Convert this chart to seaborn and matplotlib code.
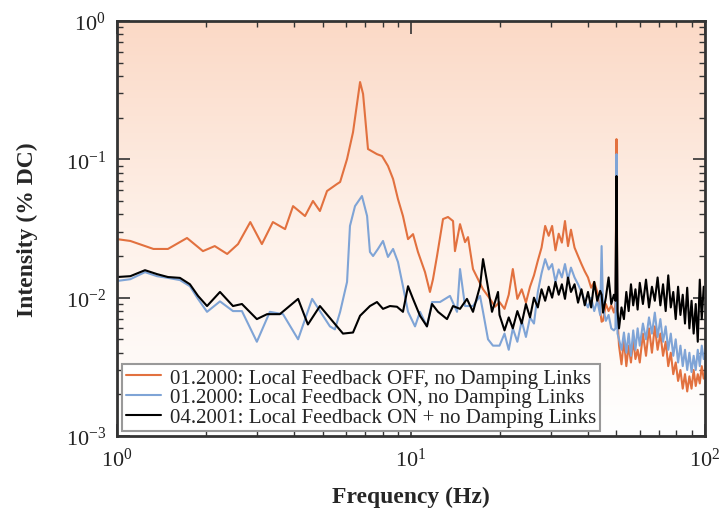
import numpy as np
import pandas as pd
import seaborn as sns
import matplotlib.pyplot as plt
from matplotlib.colors import LinearSegmentedColormap

# low-frequency part (1-20 Hz), read per series
off_lo_hz = [1.00, 1.11, 1.33, 1.49, 1.73, 1.96, 2.15, 2.37, 2.58, 2.84, 3.11, 3.39, 3.73, 3.97,
             4.36, 4.64, 4.90, 5.18, 5.60, 5.74, 6.06, 6.35, 6.55, 6.71, 6.87, 7.14, 7.66, 7.97,
             8.35, 8.69, 9.03, 9.39, 9.77, 10.16, 10.56, 11.16, 11.60, 11.88, 12.26, 12.85,
             13.36, 13.90, 14.11, 14.68, 15.27, 15.63, 16.25, 16.90, 17.58, 18.57, 19.31]
off_lo_val = [0.0265, 0.0257, 0.0225, 0.0225, 0.0270, 0.0217, 0.0236, 0.0207, 0.0244, 0.0352,
              0.0244, 0.0352, 0.0313, 0.0459, 0.0389, 0.0500, 0.0423, 0.059, 0.0663, 0.0686,
              0.1005, 0.157, 0.251, 0.362, 0.297, 0.1187, 0.109, 0.1056, 0.0895, 0.0721, 0.0516,
              0.0389, 0.0265, 0.0288, 0.0214, 0.0153, 0.0110, 0.0136, 0.0200, 0.0370, 0.0383,
              0.0358, 0.0217, 0.0340, 0.0252, 0.0274, 0.0161, 0.0136, 0.0115, 0.0098, 0.0086]

on_lo_hz = [1.00, 1.11, 1.245, 1.368, 1.49, 1.637, 1.77, 1.886, 2.024, 2.24, 2.48, 2.66, 2.99,
            3.31, 3.67, 4.13, 4.61, 4.90, 5.30, 5.51, 5.74, 6.06, 6.20, 6.45, 6.81, 7.09, 7.25,
            7.43, 7.72, 8.03, 8.35, 8.69, 9.03, 9.39, 9.77, 10.32, 10.73, 11.33, 11.79, 12.55,
            13.57, 14.34, 14.68, 15.27, 16.25, 17.17, 17.58, 18.28, 19.0]
on_lo_val = [0.0132, 0.0136, 0.0153, 0.0143, 0.0139, 0.0134, 0.0121, 0.0098, 0.0079, 0.0094,
             0.0080, 0.0080, 0.0048, 0.0079, 0.0076, 0.0050, 0.0098, 0.0080, 0.0062, 0.0059,
             0.0079, 0.0130, 0.0330, 0.0459, 0.0543, 0.0389, 0.0214, 0.0200, 0.0225, 0.0257,
             0.0197, 0.0225, 0.0181, 0.0121, 0.0079, 0.0062, 0.0079, 0.0062, 0.0093, 0.0093,
             0.0103, 0.0079, 0.0161, 0.0087, 0.0087, 0.0103, 0.0079, 0.0050, 0.0045]

new_lo_hz = [1.00, 1.11, 1.245, 1.368, 1.49, 1.637, 1.77, 1.886, 2.024, 2.24, 2.48, 2.66, 2.99,
             3.24, 3.58, 4.13, 4.46, 4.90, 5.43, 5.87, 6.35, 6.71, 7.25, 7.66, 8.03, 8.48, 8.96,
             9.39, 9.77, 10.16, 10.73, 11.33, 11.79, 12.36, 13.26, 13.90, 14.68, 15.50, 16.25,
             17.17, 17.58, 18.14, 18.86, 19.77]
new_lo_val = [0.0141, 0.0143, 0.0158, 0.0148, 0.0141, 0.0139, 0.0125, 0.0103, 0.0087, 0.0110,
              0.0087, 0.0090, 0.0070, 0.0076, 0.0076, 0.0098, 0.0064, 0.0087, 0.0067, 0.0055,
              0.0056, 0.0074, 0.0087, 0.0093, 0.0083, 0.0087, 0.0086, 0.0079, 0.0121, 0.0098,
              0.0074, 0.0062, 0.0090, 0.0079, 0.0070, 0.0087, 0.0083, 0.0098, 0.0079, 0.0121,
              0.0190, 0.0130, 0.0079, 0.0110]

# high-frequency part (20-100 Hz), shared frequency grid
hf_hz = [20.0, 20.8, 21.5, 22.2, 23.0, 23.8, 24.6, 25.4, 26.2, 27.0, 27.8, 28.6, 29.4, 30.2,
         31.0, 31.8, 32.6, 33.4, 34.2, 35.0, 36.0, 37.0, 38.0, 39.0, 40.0, 41.0, 42.0, 43.0,
         44.0, 44.5, 45.0, 46.0, 47.0, 48.0, 49.0, 49.6, 50.0, 50.4, 51.0, 52.0, 53.0, 54.0,
         55.0, 56.0, 57.0, 58.0, 59.0, 60.0, 61.5, 63.0, 64.5, 66.0, 67.5, 69.0, 70.5, 72.0,
         73.5, 75.0, 76.5, 78.0, 79.5, 81.0, 82.5, 84.0, 85.5, 87.0, 88.5, 90.0, 91.5, 93.0,
         94.5, 96.0, 97.5, 99.0]
off_hf_val = [0.0093, 0.0083, 0.0105, 0.0161, 0.0098, 0.0115, 0.0092, 0.0120, 0.0145, 0.0185,
              0.0230, 0.0330, 0.0280, 0.0330, 0.0220, 0.0290, 0.0250, 0.0358, 0.0236, 0.0310,
              0.0230, 0.0200, 0.0175, 0.0155, 0.0140, 0.0118, 0.0130, 0.0110, 0.0080, 0.0067,
              0.0068, 0.0090, 0.0080, 0.0088, 0.0078, 0.0090, 0.140, 0.0070,
              0.0045, 0.0033, 0.0050, 0.0032, 0.0045, 0.0034, 0.0050, 0.0036, 0.0042, 0.0034,
              0.0055, 0.0038, 0.0060, 0.0040, 0.0062, 0.0042, 0.0055, 0.0038, 0.0048, 0.0032,
              0.0040, 0.0028, 0.0034, 0.0025, 0.0030, 0.0022, 0.0028, 0.0021, 0.0027, 0.0022,
              0.0030, 0.0023, 0.0028, 0.0024, 0.0032, 0.0026]
on_hf_val = [0.0045, 0.0055, 0.0042, 0.0060, 0.0048, 0.0068, 0.0052, 0.0072, 0.0065, 0.0110,
             0.0150, 0.0190, 0.0160, 0.0175, 0.0130, 0.0160, 0.0140, 0.0175, 0.0135, 0.0165,
             0.0140, 0.0125, 0.0110, 0.0095, 0.0085, 0.0100, 0.0080, 0.0095, 0.0075, 0.0236,
             0.0085, 0.0068, 0.0075, 0.0060, 0.0058, 0.0060, 0.109, 0.0055,
             0.0050, 0.0042, 0.0056, 0.0040, 0.0055, 0.0038, 0.0058, 0.0042, 0.0060, 0.0045,
             0.0065, 0.0050, 0.0072, 0.0055, 0.0078, 0.0052, 0.0070, 0.0048, 0.0062, 0.0042,
             0.0055, 0.0038, 0.0050, 0.0034, 0.0045, 0.0032, 0.0042, 0.0030, 0.0040, 0.0029,
             0.0038, 0.0030, 0.0042, 0.0032, 0.0045, 0.0036]
new_hf_val = [0.0075, 0.0058, 0.0072, 0.0060, 0.0080, 0.0065, 0.0090, 0.0072, 0.0100, 0.0085,
              0.0115, 0.0095, 0.0120, 0.0100, 0.0130, 0.0105, 0.0125, 0.0098, 0.0140, 0.0110,
              0.0125, 0.0092, 0.0115, 0.0088, 0.0110, 0.0085, 0.0130, 0.0095, 0.0112, 0.0105,
              0.0078, 0.0100, 0.0140, 0.0090, 0.0105, 0.0095, 0.0757, 0.0080,
              0.0060, 0.0085, 0.0070, 0.0110, 0.0080, 0.0125, 0.0088, 0.0115, 0.0082, 0.0128,
              0.0090, 0.0135, 0.0085, 0.0120, 0.0095, 0.0140, 0.0088, 0.0125, 0.0080, 0.0145,
              0.0085, 0.0110, 0.0070, 0.0120, 0.0075, 0.0105, 0.0065, 0.0118, 0.0060, 0.0095,
              0.0055, 0.0090, 0.0048, 0.0135, 0.0070, 0.0120]

labels = ['01.2000: Local Feedback OFF, no Damping Links',
          '01.2000: Local Feedback ON, no Damping Links',
          '04.2001: Local Feedback ON + no Damping Links']
colors = ['#e2713f', '#7fa4d6', '#000000']

df = pd.concat([
    pd.DataFrame({'freq': off_lo_hz + hf_hz, 'val': off_lo_val + off_hf_val, 'run': labels[0]}),
    pd.DataFrame({'freq': on_lo_hz + hf_hz, 'val': on_lo_val + on_hf_val, 'run': labels[1]}),
    pd.DataFrame({'freq': new_lo_hz + hf_hz, 'val': new_lo_val + new_hf_val, 'run': labels[2]}),
])

sns.set_style('ticks')
plt.rcParams['font.family'] = ['Liberation Serif', 'DejaVu Serif']
plt.rcParams['mathtext.fontset'] = 'custom'
plt.rcParams['mathtext.rm'] = 'Liberation Serif'

fig = plt.figure(figsize=(7.25, 5.1), dpi=100)
ax = fig.add_axes([0.1614, 0.1431, 0.811, 0.8138])

# peach-to-white background
bg = LinearSegmentedColormap.from_list('bg', ['#ffffff', '#fef1e9', '#fbd9c6'])
grad = np.linspace(0, 1, 256).reshape(-1, 1)
ax.imshow(grad, cmap=bg, aspect='auto', origin='lower', extent=[0, 1, 0, 1],
          transform=ax.transAxes, zorder=0)

sns.lineplot(data=df, x='freq', y='val', hue='run', palette=dict(zip(labels, colors)),
             estimator=None, sort=False, linewidth=1.5, ax=ax, zorder=2)

ax.set_xscale('log')
ax.set_yscale('log')
ax.set_xlim(1, 100)
ax.set_ylim(1e-3, 1)

ax.tick_params(which='both', direction='in', top=True, right=True, colors='#333333',
               labelcolor='#222222')
ax.tick_params(which='major', length=9, width=1.2, labelsize=16, pad=8)
ax.tick_params(which='minor', length=4.5, width=1.0)
for s in ax.spines.values():
    s.set_linewidth(2)
    s.set_color('#333333')

ax.set_xlabel('Frequency (Hz)', fontsize=17, fontweight='bold', labelpad=11)
ax.set_ylabel('Intensity (% DC)', fontsize=17, fontweight='bold', labelpad=20)

leg = ax.legend(loc='lower left', bbox_to_anchor=(0.008, 0.012), borderaxespad=0,
                fontsize=15, frameon=True, fancybox=False, edgecolor='#999999',
                framealpha=1, labelspacing=0.0, handlelength=1.7, handletextpad=0.4,
                borderpad=0.2)
leg.get_frame().set_linewidth(1.5)

fig.savefig('out.png', dpi=100)
